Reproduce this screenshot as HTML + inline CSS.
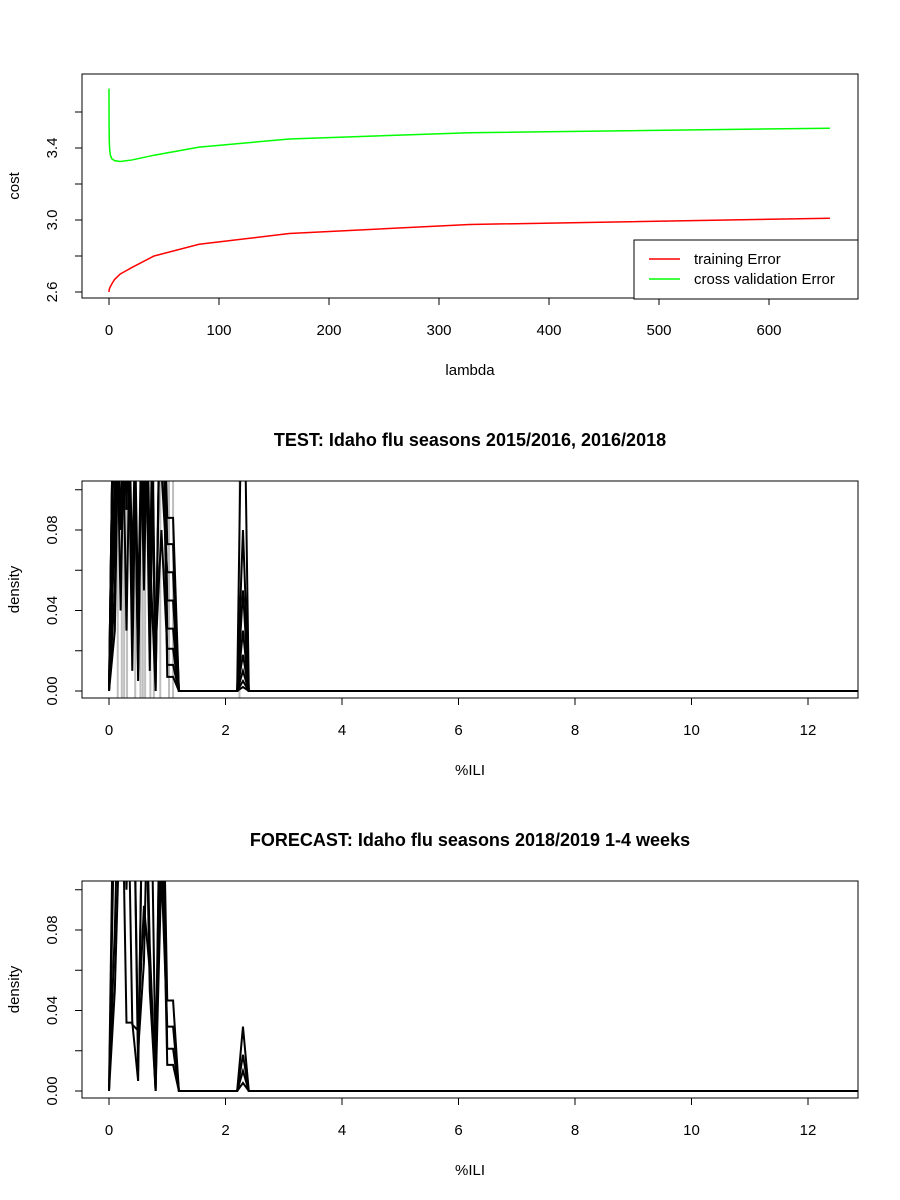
<!DOCTYPE html>
<html><head><meta charset="utf-8"><style>
body{margin:0;background:#fff}
svg{display:block;font-family:"Liberation Sans",sans-serif}
</style></head><body>
<svg id="c" width="900" height="1200" xmlns="http://www.w3.org/2000/svg">
<defs>
<clipPath id="clip1"><rect x="82" y="74" width="776" height="224"/></clipPath>
<clipPath id="clip2"><rect x="82" y="481" width="776" height="217"/></clipPath>
<clipPath id="clip3"><rect x="82" y="881" width="776" height="217"/></clipPath>
</defs>
</svg>
<script>
// ---- Panel 1 data ----
const lambdas=[0,0.01,0.02,0.04,0.08,0.16,0.32,0.64,1.28,2.56,5.12,10.24,20.48,40.96,81.92,163.84,327.68,655.36];
const trainErr=[2.600,2.602,2.604,2.606,2.608,2.612,2.616,2.622,2.630,2.645,2.670,2.700,2.735,2.800,2.865,2.925,2.975,3.010];
const cvErr=[3.730,3.700,3.660,3.600,3.540,3.480,3.430,3.390,3.360,3.340,3.330,3.325,3.333,3.360,3.405,3.450,3.485,3.510];
const xTicks1=[0,100,200,300,400,500,600];
const yTicks1=[2.6,2.8,3.0,3.2,3.4,3.6];
const yLabels1=["2.6","","3.0","","3.4",""];
// ---- Density data (values at x=0,0.1,...,1.2 and bump at 2.2,2.3,2.4) ----
const testLow=[
[0,0.2,0.2,0.03,0.2,0.01,0.2,0.07,0,0.2,0.086,0.086,0],
[0,0.08,0.2,0.2,0.03,0.2,0.09,0.2,0.01,0.2,0.073,0.073,0],
[0,0.05,0.2,0.2,0.2,0.005,0.2,0.06,0.2,0.11,0.059,0.059,0],
[0,0.15,0.12,0.2,0.2,0.2,0.07,0.2,0,0.2,0.045,0.045,0],
[0,0.2,0.04,0.2,0.06,0.2,0.2,0.03,0.2,0.2,0.031,0.031,0],
[0,0.03,0.2,0.09,0.2,0.04,0.2,0.2,0.02,0.08,0.021,0.021,0],
[0,0.1,0.2,0.2,0.01,0.2,0.05,0.2,0.2,0.2,0.013,0.013,0],
[0,0.2,0.08,0.2,0.2,0.02,0.2,0.01,0.2,0.2,0.007,0.007,0]];
const testBump=[[0,0.2,0],[0,0.08,0],[0,0.05,0],[0,0.03,0],[0,0.018,0],[0,0.01,0],[0,0.005,0],[0,0.002,0]];
const testObs=[0.15,0.22,0.26,0.31,0.45,0.54,0.58,0.62,0.71,0.77,0.88,1.03,1.1,2.24];
const fcLow=[
[0,0.2,0.2,0.034,0.034,0.005,0.2,0.072,0,0.2,0.045,0.045,0],
[0,0.08,0.2,0.2,0.033,0.03,0.092,0.06,0,0.11,0.032,0.032,0],
[0,0.05,0.15,0.2,0.2,0.02,0.064,0.2,0.01,0.2,0.021,0.021,0],
[0,0.15,0.2,0.1,0.2,0.01,0.2,0.05,0,0.15,0.013,0.013,0]];
const fcBump=[[0,0.032,0],[0,0.018,0],[0,0.01,0],[0,0.004,0]];
const xTicks2=[0,2,4,6,8,10,12];
const yTicks2=[0,0.02,0.04,0.06,0.08,0.10];
const yLabels2=["0.00","","0.04","","0.08",""];

const svg=document.getElementById('c');
const NS="http://www.w3.org/2000/svg";
function mk(tag,attrs,parent){const e=document.createElementNS(NS,tag);for(const k in attrs)e.setAttribute(k,attrs[k]);(parent||svg).appendChild(e);return e;}

function axes(box,xs,xTicks,xLab,ys,yTicks,yLab,xTitle,yTitle,title,pfx){
  const r=mk('rect',{x:box.x,y:box.y,width:box.w,height:box.h,fill:'none',stroke:'#000','stroke-width':1});
  
  
  const by=box.y+box.h;
  xTicks.forEach((t,i)=>{
    const l=mk('line',{x1:xs(t),x2:xs(t),y1:by,y2:by+7,stroke:'#000'});
    
    
    const tx=mk('text',{x:xs(t),y:by+37,'text-anchor':'middle','font-size':15});
    tx.textContent=xLab[i];
    
    
  });
  yTicks.forEach((t,i)=>{
    const y=ys(t);
    const l=mk('line',{x1:box.x-7,x2:box.x,y1:y,y2:y,stroke:'#000'});
    
    
    if(yLab[i]){
      const tx=mk('text',{x:0,y:0,'text-anchor':'middle','font-size':15,transform:`translate(${box.x-25},${y}) rotate(-90)`});
      tx.textContent=yLab[i];
      
      
    }
  });
  const xt=mk('text',{x:box.x+box.w/2,y:by+77,'text-anchor':'middle','font-size':15});
  xt.textContent=xTitle;
  
  
  const yt=mk('text',{x:0,y:0,'text-anchor':'middle','font-size':15,transform:`translate(19,${box.y+box.h/2}) rotate(-90)`});
  yt.textContent=yTitle;
  
  
  if(title){
    const tt=mk('text',{x:box.x+box.w/2,y:box.y-35,'text-anchor':'middle','font-size':18,'font-weight':'bold'});
    tt.textContent=title;
    
    
  }
}

// Panel 1
const b1={x:82,y:74,w:776,h:224};
const xs1=v=>109+v*1.1, ys1=v=>292-(v-2.6)*180;
axes(b1,xs1,xTicks1,xTicks1.map(String),ys1,yTicks1,yLabels1,'lambda','cost',null,'cost');
function poly(xsArr,ysArr,xs,ys,color,w,clip,name){
  const p=mk('polyline',{points:xsArr.map((x,i)=>xs(x)+','+ys(ysArr[i])).join(' '),fill:'none',stroke:color,'stroke-width':w,'stroke-linejoin':'miter','clip-path':`url(#${clip})`});
  
  
}
poly(lambdas,trainErr,xs1,ys1,'#ff0000',1.5,'clip1','training-error-line');
poly(lambdas,cvErr,xs1,ys1,'#00ff00',1.5,'clip1','cv-error-line');
const lg=mk('g',{});


mk('rect',{x:634,y:240,width:224,height:59,fill:'#fff',stroke:'#000'},lg);
[['training Error','#ff0000',259],['cross validation Error','#00ff00',279]].forEach(([t,c,y])=>{
  const l=mk('line',{x1:649,x2:680,y1:y,y2:y,stroke:c,'stroke-width':1.5},lg);
  
  
  const tx=mk('text',{x:694,y:y+5,'font-size':15},lg);
  tx.textContent=t;
  
  
});

// Density panels
function fullSeries(low,bump){
  const xs=[],ys=[];
  for(let i=0;i<=130;i++){
    const x=i/10;let y=0;
    if(i<low.length)y=low[i];
    else if(i>=22&&i<=24)y=bump[i-22];
    xs.push(x);ys.push(y);
  }
  return [xs,ys];
}
function densityPanel(top,lows,bumps,obs,title,pfx,clip){
  const box={x:82,y:top,w:776,h:217};
  const zero=top+210;
  const xs=v=>109+v*58.25, ys=v=>zero-v*2012.5;
  if(obs){
    obs.forEach(o=>{
      const l=mk('line',{x1:xs(o),x2:xs(o),y1:top,y2:top+217,stroke:'#bebebe','stroke-width':2});
      
      
    });
  }
  lows.forEach((low,k)=>{
    const [a,b]=fullSeries(low,bumps[k]);
    poly(a,b,xs,ys,'#000',2,clip,pfx+'-density-line');
  });
  axes(box,xs,xTicks2,xTicks2.map(String),ys,yTicks2,yLabels2,'%ILI','density',title,pfx);
}
densityPanel(481,testLow,testBump,testObs,'TEST: Idaho  flu seasons 2015/2016, 2016/2018','test','clip2');
densityPanel(881,fcLow,fcBump,null,'FORECAST: Idaho flu seasons 2018/2019 1-4 weeks','forecast','clip3');
</script>
</body></html>
